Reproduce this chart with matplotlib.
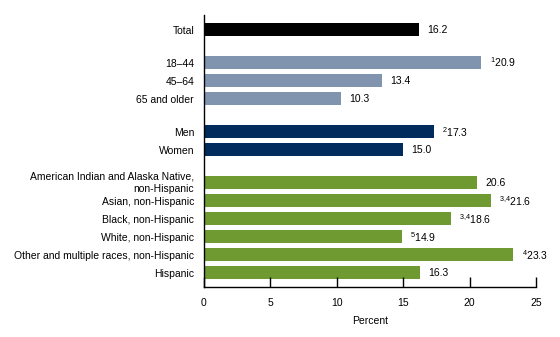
import matplotlib

matplotlib.use("Agg")
import matplotlib.pyplot as plt

plt.rcParams["font.family"] = ["Liberation Sans", "DejaVu Sans"]
plt.rcParams["mathtext.fontset"] = "custom"
plt.rcParams["mathtext.rm"] = "Liberation Sans"

labels = [
    "Total",
    "18\u201344", "45\u201364", "65 and older",
    "Men", "Women",
    "American Indian and Alaska Native,\nnon-Hispanic",
    "Asian, non-Hispanic",
    "Black, non-Hispanic",
    "White, non-Hispanic",
    "Other and multiple races, non-Hispanic",
    "Hispanic",
]
values = [16.2, 20.9, 13.4, 10.3, 17.3, 15.0, 20.6, 21.6, 18.6, 14.9, 23.3, 16.3]
notes = ["", "1", "", "", "2", "", "", "3{,}4", "3{,}4", "5", "4", ""]
groups = [0, 1, 1, 1, 2, 2, 3, 3, 3, 3, 3, 3]
group_colors = ["#000000", "#8094B0", "#002B5C", "#6F9A31"]
fs = 7.5

# spacer between groups, a bit less than a full row
rows = []
pos = 0.0
for i, g in enumerate(groups):
    if i > 0 and g != groups[i - 1]:
        pos += 0.83
    rows.append(pos)
    pos += 1

fig = plt.figure(figsize=(5.6, 3.37), dpi=100)
ax = fig.add_axes([0.364, 0.149, 0.593, 0.806])

ax.barh(rows, values, height=0.72, color=[group_colors[g] for g in groups])

for y, v, n in zip(rows, values, notes):
    txt = f"{v:.1f}"
    if n:
        txt = r"$^{\mathrm{" + n + "}}$" + txt
    ax.annotate(txt, (v, y), xytext=(6, 0), textcoords="offset points",
                ha="left", va="center", fontsize=fs)

ax.set_yticks(rows)
ax.set_yticklabels(labels, fontsize=fs, linespacing=1.35)
for lab in ax.get_yticklabels():
    if "\n" in lab.get_text():
        lab.set_va("center")
ax.set_ylim(rows[-1] + 0.77, -0.8)
ax.set_xlim(0, 25)
ax.set_xticks([0, 5, 10, 15, 20, 25])
ax.tick_params(axis="x", direction="in", length=7, width=1, labelsize=fs, pad=8)
ax.tick_params(axis="y", length=0, pad=7)
ax.set_xlabel("Percent", fontsize=fs, labelpad=6)

for side in ["top", "right"]:
    ax.spines[side].set_visible(False)
for side in ["left", "bottom"]:
    ax.spines[side].set_linewidth(1)

fig.savefig("out.png", dpi=100)
